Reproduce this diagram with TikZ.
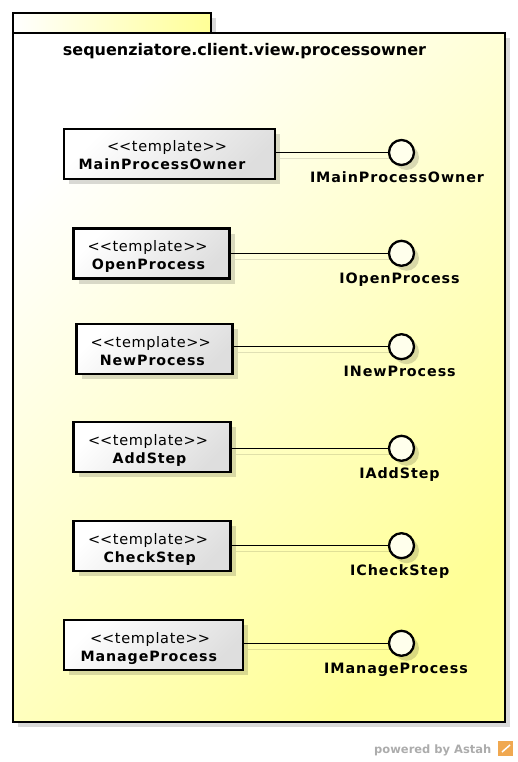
\documentclass[tikz,border=0pt]{standalone}
\usepackage{fontspec}
\setmainfont{DejaVu Sans}
\newfontfamily\spacedfont{DejaVu Sans}[LetterSpace=6.5]
\newfontfamily\stereofont{DejaVu Sans}[LetterSpace=4.5]
\usetikzlibrary{shadows,calc}
\definecolor{frameyel}{RGB}{255,255,150}
\definecolor{boxgrey}{RGB}{222,222,222}
\definecolor{circfill}{RGB}{255,255,236}
\definecolor{poweredc}{RGB}{172,172,172}
\definecolor{astahor}{RGB}{240,168,80}
\tikzset{
  flatshadow/.style={drop shadow={shadow xshift=5pt, shadow yshift=-5pt, fill=black, opacity=0.15}},
  clsbox/.style={draw=black, line width=2.5pt, top color=white, bottom color=boxgrey, shading angle=45, inner sep=0pt, minimum height=50pt, flatshadow},
  iface/.style={circle, draw=black, line width=2.3pt, fill=circfill, minimum size=25pt, inner sep=0pt, flatshadow},
  stereo/.style={anchor=base, inner sep=0pt, font=\stereofont\fontsize{14.5}{17}\selectfont},
  cname/.style={anchor=base, inner sep=0pt, font=\spacedfont\fontsize{14.2}{17}\selectfont\bfseries},
  ilabel/.style={anchor=base, inner sep=0pt, font=\spacedfont\fontsize{14.3}{17}\selectfont\bfseries},
  conn/.style={draw=black, line width=1.2pt},
  connshadow/.style={draw=black, draw opacity=0.12, line width=1.5pt},
}
\begin{document}
\begin{tikzpicture}[x=1pt,y=-1pt]
\useasboundingbox (0,0) rectangle (518,762);
% package frame
\path[draw=black, line width=2.3pt, left color=white, right color=frameyel, flatshadow] (13,13) rectangle (211,33);
\path[draw=black, line width=2.3pt, top color=white, bottom color=frameyel, shading angle=45, flatshadow] (13,33) rectangle (505,722);
\node[anchor=base, inner sep=0pt, font=\fontsize{16}{19}\selectfont\bfseries] (title) at (244.5,56) {sequenziatore.client.view.processowner};

% boxes: name, left, right, top, circle cy, stereo cx, name cx, label cx, text
\foreach \i/\xa/\xb/\t/\cy/\sx/\nx/\lx/\nm in {
  1/64/275/129/152.5/167/162/397/MainProcessOwner,
  2/73.5/229.5/228.5/253.3/147.6/148.5/399.5/OpenProcess,
  3/76.5/232.5/324/346.7/150.7/152.3/399.7/NewProcess,
  4/73.5/230.5/422/448.3/148/149.5/399.5/AddStep,
  5/73.5/230.5/521/545.7/148/149.7/399.7/CheckStep,
  6/64/243/620/643.3/150/148.8/396/ManageProcess}{
  \pgfmathsetmacro{\bw}{\xb-\xa}
  \pgfmathsetmacro{\bx}{(\xa+\xb)/2}
  \pgfmathsetmacro{\by}{\t+25}
  \pgfmathsetmacro{\sy}{\t+23}
  \pgfmathsetmacro{\ny}{\t+41}
  \pgfmathsetmacro{\ly}{\cy+30}
  \node[iface] (c\i) at (401.5,\cy) {};
  \draw[connshadow] ($(c\i.west -| \xb,0)+(5,6)$) -- ($(c\i.west)+(3,6)$);
  \node[clsbox, minimum width=\bw pt] (b\i) at (\bx,\by) {};
  \draw[conn] (c\i.west -| b\i.east) -- (c\i.west);
  \node[stereo] (s\i) at (\sx,\sy) {<\kern0pt<template>\kern0pt>};
  \node[cname] (n\i) at (\nx,\ny) {\nm};
  \node[ilabel] (l\i) at (\lx,\ly) {I\nm};
}

% footer
\node[anchor=base west, inner sep=0pt, font=\fontsize{11.5}{14}\selectfont\bfseries, text=poweredc] (powered) at (374,753) {powered by Astah};
\fill[astahor] (498,741) rectangle (513,756);
\draw[white, line width=1.5pt] (502,752) -- (510,745);
\end{tikzpicture}
\end{document}
